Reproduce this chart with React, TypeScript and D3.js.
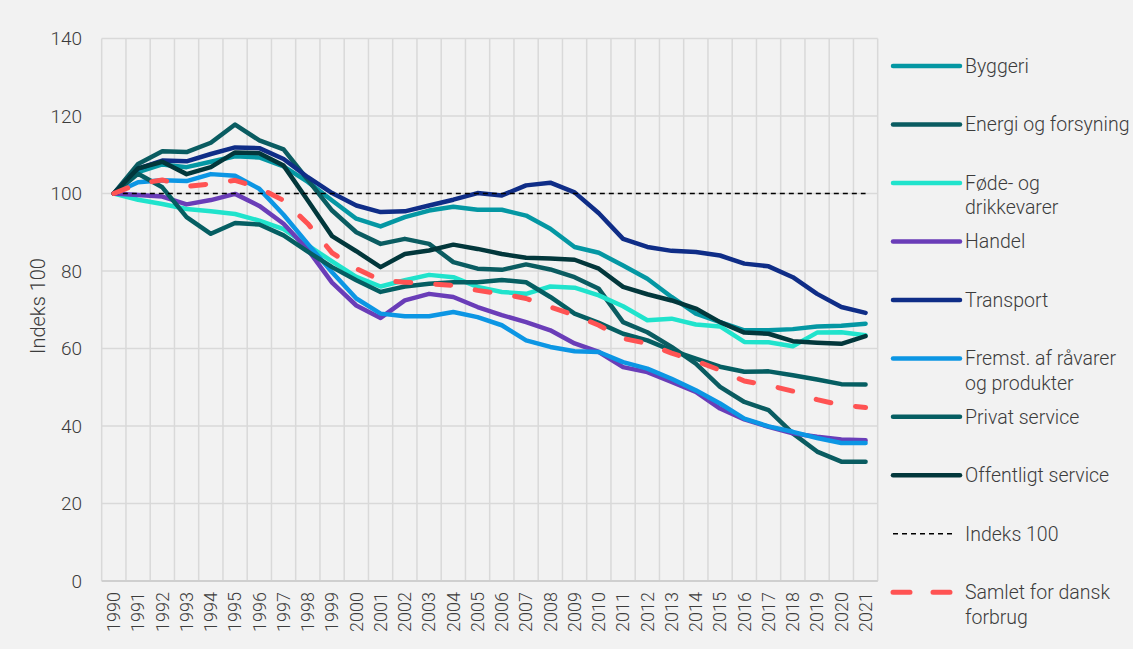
import React from 'react';
import * as d3 from 'd3';

const years = d3.range(1990, 2022).map(String);

const byggeri = [100, 105.5, 107.5, 106.8, 108.2, 109.6, 109.3, 107, 103, 98.2, 93.5, 91.5, 93.9, 95.6, 96.6, 95.8, 95.8, 94.3, 90.9, 86.2, 84.7, 81.4, 78, 73.3, 69, 66.8, 64.7, 64.7, 65, 65.7, 65.9, 66.4];
const energi = [100, 107.6, 110.9, 110.7, 113.1, 117.8, 113.7, 111.4, 103.5, 95.6, 90, 87, 88.3, 87, 82.3, 80.6, 80.3, 81.7, 80.4, 78.4, 75.4, 66.8, 64.2, 60.4, 56.1, 50.1, 46.2, 44.1, 38.1, 33.4, 30.8, 30.8];
const foede = [100, 98.4, 97.3, 96.0, 95.4, 94.7, 93.0, 90.8, 86.6, 82.5, 78.5, 76, 77.6, 79, 78.4, 75.9, 74.6, 74.1, 76, 75.7, 73.7, 70.9, 67.3, 67.7, 66.2, 65.7, 61.7, 61.6, 60.6, 64.1, 64.2, 63.4];
const handel = [100, 99.6, 99.2, 97.2, 98.3, 99.9, 96.8, 92.2, 85.5, 77, 71.1, 67.9, 72.4, 74.1, 73.3, 70.7, 68.6, 66.8, 64.7, 61.3, 59.1, 55.2, 53.9, 51.4, 48.8, 44.5, 41.7, 39.8, 38.1, 37.2, 36.5, 36.3];
const transport = [100, 106.4, 108.5, 108.3, 110.2, 111.9, 111.7, 108.9, 104.2, 100.1, 96.9, 95.2, 95.4, 96.9, 98.4, 100.1, 99.5, 102.1, 102.8, 100.3, 94.9, 88.3, 86.2, 85.2, 84.9, 84.0, 81.9, 81.2, 78.4, 74.1, 70.7, 69.2];
const fremst = [100, 102.9, 103.4, 103.2, 105, 104.6, 101.2, 94.5, 87, 79.7, 72.9, 69.0, 68.3, 68.3, 69.4, 68.1, 66, 62.1, 60.4, 59.3, 59.1, 56.5, 54.8, 52.2, 49.2, 45.8, 41.9, 39.9, 38.5, 36.9, 35.6, 35.6];
const privat = [100, 105.1, 101.6, 93.9, 89.6, 92.4, 92.0, 89.2, 85.0, 81.0, 77.6, 74.6, 76.0, 76.7, 77.1, 77.1, 77.7, 77.1, 73.3, 69.0, 66.6, 63.8, 62.1, 59.5, 57.4, 55.3, 54, 54.1, 53.1, 52, 50.8, 50.7];
const offentligt = [100, 106.5, 108.2, 105, 106.8, 110.6, 110.4, 107.2, 98.2, 89, 85.1, 81, 84.4, 85.3, 86.8, 85.7, 84.4, 83.4, 83.2, 82.9, 80.6, 75.9, 74, 72.4, 70.3, 66.8, 64.1, 63.8, 61.9, 61.5, 61.2, 63.2];
const indeks = years.map(() => 100);
const samlet = [100, 102.5, 103.5, 101.8, 102.5, 103.4, 101.4, 98.2, 92.2, 84.7, 80.6, 77.6, 77.1, 76.7, 76.3, 75, 74.1, 72.9, 70.7, 68.6, 66.0, 62.6, 61.3, 58.8, 56.8, 54.4, 51.6, 50.5, 49, 46.8, 45.4, 44.8];

const yTicks = [0, 20, 40, 60, 80, 100, 120, 140];

type Series = { name: string[]; values: number[]; color: string; kind: 'solid' | 'dash' | 'thin' };

const series: Series[] = [
  { name: ['Byggeri'], values: byggeri, color: '#0497a3', kind: 'solid' },
  { name: ['Energi og forsyning'], values: energi, color: '#0a5c61', kind: 'solid' },
  { name: ['Føde- og', 'drikkevarer'], values: foede, color: '#20e3cc', kind: 'solid' },
  { name: ['Handel'], values: handel, color: '#6a3db8', kind: 'solid' },
  { name: ['Transport'], values: transport, color: '#0f2d87', kind: 'solid' },
  { name: ['Fremst. af råvarer', 'og produkter'], values: fremst, color: '#0c96e4', kind: 'solid' },
  { name: ['Privat service'], values: privat, color: '#055e62', kind: 'solid' },
  { name: ['Offentligt service'], values: offentligt, color: '#02373b', kind: 'solid' },
  { name: ['Indeks 100'], values: indeks, color: '#000000', kind: 'thin' },
  { name: ['Samlet for dansk', 'forbrug'], values: samlet, color: '#ff5353', kind: 'dash' },
];

const W = 1133;
const H = 649;
const font = 'Roboto, "Noto Sans", sans-serif';
const textColor = '#3c3c3c';

function strokeProps(s: Series) {
  if (s.kind === 'thin') return { strokeWidth: 1.5, strokeDasharray: '5 4', strokeLinecap: 'butt' as const };
  if (s.kind === 'dash') return { strokeWidth: 5, strokeDasharray: '15 25', strokeLinecap: 'round' as const };
  return { strokeWidth: 4.5, strokeLinecap: 'round' as const };
}

export default function App() {
  const x = d3.scaleBand<string>().domain(years).range([101.7, 877.7]).padding(0);
  const y = d3.scaleLinear().domain([0, 140]).range([581, 38.5]);
  const cx = (yr: string) => (x(yr) ?? 0) + x.bandwidth() / 2;

  const line = d3
    .line<number>()
    .x((_, i) => cx(years[i]))
    .y((d) => y(d));

  const legendY = d3.scaleLinear().domain([0, series.length - 1]).range([66, 592.3]);

  return (
    <div style={{ position: 'fixed', left: 0, top: 0 }}>
      <svg width={W} height={H} style={{ display: 'block', fontFamily: font, fontWeight: 300 }}>
        <rect x={0} y={0} width={W} height={H} fill="#f2f2f2" />

        {/* grid */}
        {yTicks.map((t) => (
          <line key={'h' + t} x1={x.range()[0]} x2={x.range()[1]} y1={y(t)} y2={y(t)} stroke="#d9d9d9" strokeWidth={1.5} />
        ))}
        {[...years.map((yr) => x(yr) ?? 0), x.range()[1]].map((gx, i) => (
          <line key={'v' + i} x1={gx} x2={gx} y1={y(140)} y2={y(0)} stroke="#d9d9d9" strokeWidth={1.5} />
        ))}
        <line x1={x.range()[0]} x2={x.range()[1]} y1={y(0)} y2={y(0)} stroke="#cfcfcf" strokeWidth={2} />

        {/* y axis */}
        {yTicks.map((t) => (
          <text key={'yt' + t} x={82} y={y(t)} dy="0.35em" textAnchor="end" fontSize={19} fill={textColor}>
            {t}
          </text>
        ))}
        <text transform="translate(38,306) rotate(-90)" textAnchor="middle" dy="0.35em" fontSize={20} fill={textColor}>
          Indeks 100
        </text>

        {/* x axis */}
        {years.map((yr) => (
          <text
            key={'xt' + yr}
            transform={`translate(${cx(yr)},592) rotate(-90)`}
            textAnchor="end"
            dy="0.35em"
            fontSize={18}
            fill={textColor}
          >
            {yr}
          </text>
        ))}

        {/* series */}
        {series.map((s) => (
          <path key={s.name.join(' ')} d={line(s.values) ?? ''} fill="none" stroke={s.color} strokeLinejoin="round" {...strokeProps(s)} />
        ))}

        {/* legend */}
        {series.map((s, i) => {
          const ly = legendY(i);
          const x2 = s.kind === 'thin' ? 952 : s.kind === 'dash' ? 956 : 960;
          return (
            <g key={'lg' + i}>
              <line x1={893} x2={x2} y1={ly} y2={ly} stroke={s.color} {...strokeProps(s)} strokeDasharray={s.kind === 'dash' ? '17 23' : strokeProps(s).strokeDasharray} />
              {s.name.map((n, j) => (
                <text key={j} x={965} y={ly + j * 24.5} dy="0.35em" fontSize={19.5} fill={textColor}>
                  {n}
                </text>
              ))}
            </g>
          );
        })}
      </svg>
    </div>
  );
}
